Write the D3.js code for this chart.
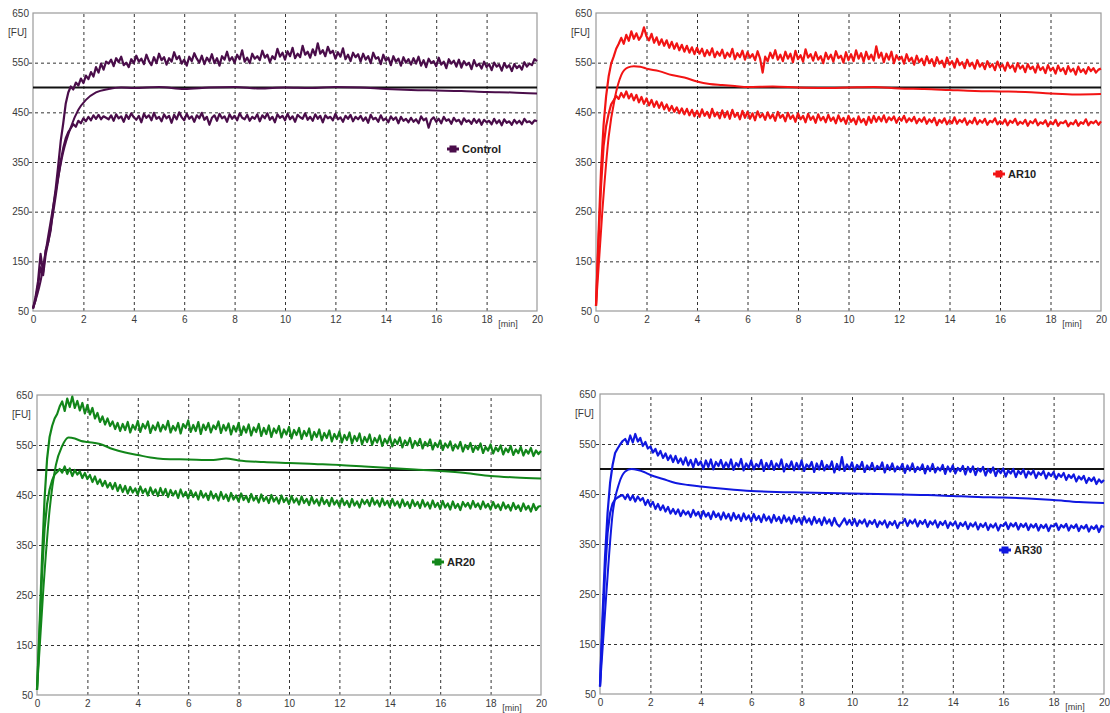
<!DOCTYPE html>
<html><head><meta charset="utf-8">
<script src="https://cdn.jsdelivr.net/npm/d3@7"></script>
<style>
body{margin:0;background:#fff;}
svg text{font-family:"Liberation Sans",Arial,sans-serif;}
</style></head>
<body><svg id="c" width="1110" height="713"></svg>
<script>
// ---------- DATA ----------
const timeStep = 0.1; // min, sampling of the noisy traces (index * step)
const yTicks = [50,150,250,350,450,550,650];
const xTicks = [0,2,4,6,8,10,12,14,16,18,20];
const refLevel = 500;
const seriesNames = ["Control","AR10","AR20","AR30"];

const controlUpper = [55,78,110,165,128,172,188,212,258,296,342,392,428,468,490,
502,496,510,504,518,509,524,517,531,522,541,530,548,536,552,
548,556,543,559,551,562,545,550,541,557,549,564,552,558,547,566,553,545,561,549,
568,555,561,546,559,552,571,557,563,548,556,544,562,553,569,558,550,564,547,560,
552,567,549,559,544,563,556,572,554,561,550,566,557,575,552,560,549,568,558,563,
555,574,560,566,551,563,557,578,562,570,556,573,563,580,559,568,561,584,566,572,
560,577,565,589,568,575,563,582,569,574,558,571,562,579,557,566,553,570,561,567,
552,568,556,563,549,570,558,561,547,566,554,560,545,563,552,558,544,561,550,557,
546,559,548,562,544,555,541,558,549,553,543,560,546,552,539,557,548,554,542,556,
540,553,545,550,537,555,543,548,538,552,541,547,535,550,542,546,534,549,540,545,
533,547,539,544,536,551,542,548,545,557,553];
const controlLower = [55,72,102,138,122,163,188,218,248,282,318,352,378,398,410,
418,426,421,433,428,438,432,441,434,444,437,445,436,442,439,
436,444,433,446,438,442,431,445,437,448,440,435,443,430,447,439,444,434,449,437,
441,432,446,438,443,429,445,436,450,440,434,447,437,442,431,444,438,449,435,441,
425,439,444,433,447,438,442,431,446,437,443,434,448,439,436,445,433,441,437,446,
432,444,438,448,435,441,430,446,439,443,434,447,436,442,431,445,440,437,448,435,
441,433,446,437,443,430,444,438,441,434,447,436,440,431,443,437,445,432,441,436,
443,433,440,429,445,436,439,431,444,434,438,430,442,435,440,428,441,433,437,430,
439,431,436,428,442,434,438,419,435,440,431,437,428,441,433,436,427,439,432,435,
426,438,431,434,427,437,429,436,425,435,430,433,426,437,428,434,424,436,429,432,
425,435,428,433,426,437,430,432,427,434,432];
const controlMean = [[0,55],[0.3,110],[0.6,200],[0.9,290],[1.2,370],[1.5,420],[1.8,455],[2.1,475],[2.5,490],[3,497],[3.5,500],[4,499],[5,501],[6,497],[7,500],[8,501],[9,498],[10,500],[11,499],[12,501],[13,500],[14,497],[15,495],[16,494],[17,493],[18,491],[19,490],[20,488]];

const ar10Upper = [60,205,335,425,482,522,548,562,578,588,
600,588,606,594,613,598,609,596,604,621,603,595,608,590,601,586,597,584,595,580,
592,578,589,575,586,572,584,570,581,567,580,568,578,563,575,565,579,561,572,564,
576,559,570,562,578,557,569,561,574,556,571,560,567,555,573,558,530,562,553,570,
559,575,556,566,553,572,558,568,551,574,557,565,552,577,560,567,554,571,556,563,
549,570,557,566,552,573,559,564,550,571,555,567,553,575,558,569,552,572,557,566,
554,583,560,570,551,568,556,572,549,565,556,562,548,567,553,560,546,564,551,558,
545,563,549,557,543,561,548,554,541,560,546,553,540,558,545,551,539,556,543,550,
538,555,542,549,537,553,541,547,535,552,
540,546,534,550,539,545,532,549,538,544,531,547,537,542,530,546,535,541,529,545,
534,540,528,544,533,539,527,543,532,538,526,542,531,537,528,541,533,539,530,536,538];
const ar10Lower = [60,188,302,382,422,447,466,474,483,477,
489,480,492,478,487,474,485,470,481,467,478,464,475,461,472,459,470,456,466,453,
463,451,460,448,458,446,457,444,455,442,453,441,456,443,451,439,457,442,450,438,
454,440,452,437,455,441,449,436,453,439,
451,437,448,434,452,440,447,435,450,438,446,433,451,439,445,432,449,437,444,431,
448,436,443,430,447,435,442,429,446,434,
441,430,445,433,440,428,444,432,439,427,443,431,438,426,442,430,437,425,441,429,
443,431,441,432,444,430,440,434,442,429,439,433,443,430,438,432,441,428,437,431,
440,427,436,430,439,424,435,429,438,426,434,428,440,427,435,430,438,425,433,428,
439,426,434,429,437,425,433,430,438,426,432,427,436,424,433,429,437,425,431,427,
435,423,432,428,436,424,430,427,434,422,431,426,435,423,430,428,433,422,429,426,
434,423,430,427,436,424,431,428,433,425,432];
const ar10Mean = [[0,60],[0.25,250],[0.5,400],[0.75,480],[1,525],[1.25,540],[1.5,543],[1.75,542],[2,538],[2.5,533],[3,525],[3.5,520],[4,512],[4.5,507],[5,505],[5.5,503],[6,501],[7,502],[8,500],[9,499],[10,500],[11,501],[12,498],[13,497],[14,495],[15,493],[16,492],[17,491],[18,488],[19,486],[20,487]];

const ar20Upper = [60,185,325,442,522,566,588,603,612,627,
637,618,643,626,647,624,638,619,634,613,630,611,624,603,614,596,607,591,603,588,
597,582,594,578,592,580,596,575,590,581,598,576,592,583,597,574,589,580,595,577,
590,581,598,575,588,579,594,573,592,584,599,576,590,578,596,572,591,580,594,575,
589,582,597,574,590,579,593,571,588,577,594,570,587,575,591,569,585,576,592,568,
584,572,589,566,583,574,588,565,581,571,586,563,580,570,584,562,578,568,583,560,
576,566,581,559,574,564,579,557,572,562,577,555,570,560,575,553,568,558,573,551,
566,556,571,550,564,555,569,548,562,553,567,547,561,552,565,545,559,550,564,544,
558,549,562,543,556,548,561,541,554,546,559,540,553,545,557,539,551,543,556,537,
550,542,554,536,548,541,553,534,546,539,551,533,545,538,549,531,543,536,548,530,
541,534,546,529,540,533,544,528,539,532,538];
const ar20Lower = [60,172,292,382,432,461,479,491,496,502,
495,507,492,503,488,500,491,497,484,494,482,490,476,487,472,481,468,478,465,474,
462,474,458,470,456,468,453,466,455,463,451,467,454,462,449,465,452,461,448,464,
450,462,446,460,449,458,444,461,447,456,443,459,446,455,441,458,445,453,440,457,
443,452,439,456,442,451,438,454,441,449,437,453,440,448,436,452,439,447,435,451,
438,446,434,450,437,445,433,449,436,444,432,448,435,443,431,447,434,442,430,446,
433,441,429,445,432,440,428,444,431,439,427,443,430,438,426,442,429,437,425,441,
432,440,428,444,431,439,427,443,430,438,426,442,429,437,425,441,428,436,424,440,
428,436,424,440,427,435,423,439,426,434,422,438,425,433,421,437,424,432,420,436,
427,434,423,438,426,433,422,437,425,432,421,436,424,431,420,435,423,430,419,434,
422,429,418,433,421,428,417,432,420,427,428];
const ar20Mean = [[0,60],[0.25,260],[0.5,420],[0.75,510],[1,548],[1.25,565],[1.5,563],[1.75,558],[2,556],[2.5,552],[3,542],[3.5,535],[4,530],[4.5,525],[5,522],[6,521],[7,520],[7.5,523],[8,519],[9,516],[10,514],[11,512],[12,510],[13,507],[14,504],[15,501],[16,498],[17,494],[18,488],[19,485],[20,483]];

const ar30Upper = [65,205,325,412,472,508,532,541,549,556,
560,550,567,553,570,555,562,546,554,541,545,533,540,527,536,522,531,518,527,514,
526,512,521,509,523,507,518,503,520,508,515,500,517,504,519,499,514,506,518,501,
513,503,519,498,512,505,520,497,511,502,517,499,510,504,518,496,512,501,516,498,
511,503,519,495,510,502,515,497,512,500,517,496,509,503,514,494,511,499,516,497,
508,501,515,493,510,498,524,496,509,500,
513,495,508,501,514,494,507,499,512,496,506,500,513,493,508,498,511,495,505,499,
510,492,507,497,511,494,504,498,509,491,506,496,510,493,503,497,508,490,505,495,
507,491,502,496,506,489,504,494,505,488,501,495,504,487,500,493,503,486,499,492,
501,485,497,491,500,484,496,490,499,483,495,489,497,482,493,488,496,481,492,486,
494,480,490,484,492,478,488,482,489,475,485,479,486,472,482,476,483,470,479,473,478];
const ar30Lower = [65,182,292,372,412,431,439,443,446,448,
440,449,438,447,435,445,437,442,428,438,426,434,420,430,418,427,415,424,411,420,
410,419,406,417,409,415,404,418,407,414,402,416,405,412,400,415,404,411,399,413,
401,410,397,412,400,408,396,411,399,407,395,410,398,406,394,409,397,405,393,408,
396,404,392,407,395,403,391,406,394,402,390,405,393,401,389,404,392,400,388,403,
391,399,387,402,390,385,393,401,389,398,
388,400,386,397,391,399,385,396,390,398,384,395,389,397,383,394,388,396,382,393,
392,400,386,397,391,399,385,396,390,398,384,395,389,397,383,394,388,396,382,393,
387,395,381,392,386,394,380,391,385,393,379,390,384,392,378,389,383,391,377,388,
386,393,380,391,385,392,379,390,384,391,378,389,383,390,377,388,382,389,376,387,
385,391,378,388,383,390,377,387,382,389,376,386,381,388,375,385,380,387,374,386,384];
const ar30Mean = [[0,65],[0.25,250],[0.5,410],[0.75,470],[1,495],[1.25,500],[1.5,498],[1.75,494],[2,488],[2.5,480],[3,472],[3.5,468],[4,465],[5,460],[6,456],[7,454],[8,453],[9,452],[10,451],[11,450],[12,449],[13,448],[14,446],[15,444],[16,443],[17,441],[18,438],[19,434],[20,432]];

// ---------- LAYOUT / STYLE ----------
const colors = ["#4a0d4a","#f21414","#12861a","#1018e0"];
const layout = [
  {box:[33,13,537,311], legend:[447,149]},
  {box:[596,13,1101,311], legend:[993,174]},
  {box:[37,395,541,695], legend:[432,562]},
  {box:[600,394,1104,694], legend:[999,550]}
];
const panelData = [
  {upper:controlUpper, lower:controlLower, mean:controlMean},
  {upper:ar10Upper, lower:ar10Lower, mean:ar10Mean},
  {upper:ar20Upper, lower:ar20Lower, mean:ar20Mean},
  {upper:ar30Upper, lower:ar30Lower, mean:ar30Mean}
];

const svg = d3.select("#c");
const textCol = "#3a3a3a";

panelData.forEach((pd,i)=>{
  const [x0,y0,x1,y1] = layout[i].box;
  const col = colors[i];
  const x = d3.scaleLinear().domain([0,20]).range([x0,x1]);
  const y = d3.scaleLinear().domain([50,650]).range([y1,y0]);
  const g = svg.append("g");

  const hg = g.append("g").attr("transform",`translate(${x0-4},0)`)
    .call(d3.axisLeft(y).tickValues(yTicks.slice(1,-1)).tickSize(-(x1-x0+4)).tickFormat(""));
  hg.select(".domain").remove();
  hg.selectAll("line").attr("stroke","#333").attr("stroke-dasharray","3,3").attr("stroke-width",1);

  const vg = g.append("g").attr("transform",`translate(0,${y1})`)
    .call(d3.axisBottom(x).tickValues(xTicks.slice(1,-1)).tickSize(-(y1-y0)).tickFormat(""));
  vg.select(".domain").remove();
  vg.selectAll("line").attr("stroke","#333").attr("stroke-dasharray","3,3").attr("stroke-width",1);

  g.append("rect").attr("x",x0).attr("y",y0).attr("width",x1-x0).attr("height",y1-y0)
    .attr("fill","none").attr("stroke","#9a9a9a").attr("stroke-width",1.2);

  const ya = g.append("g").attr("transform",`translate(${x0},0)`)
    .call(d3.axisLeft(y).tickValues(yTicks).tickSize(0).tickPadding(4));
  ya.select(".domain").remove();
  ya.selectAll("text").attr("fill",textCol).style("font-size","10px");

  const xa = g.append("g").attr("transform",`translate(0,${y1})`)
    .call(d3.axisBottom(x).tickValues(xTicks).tickSize(0).tickPadding(5));
  xa.select(".domain").remove();
  xa.selectAll("text").attr("fill",textCol).style("font-size","10px");

  g.append("text").attr("x",x0-25).attr("y",y(650)+23).attr("fill",textCol)
    .style("font-size","10px").text("[FU]");
  g.append("text").attr("x",x(18.85)).attr("y",y1+16).attr("fill",textCol)
    .attr("text-anchor","middle").style("font-size","9px").text("[min]");

  g.append("line").attr("x1",x0).attr("x2",x1).attr("y1",y(refLevel)).attr("y2",y(refLevel))
    .attr("stroke","#111").attr("stroke-width",2);

  const lineIdx = d3.line().x((d,k)=>x(k*timeStep)).y(d=>y(d));
  const linePair = d3.line().x(d=>x(d[0])).y(d=>y(d[1])).curve(d3.curveMonotoneX);

  [pd.upper,pd.lower].forEach(s=>{
    g.append("path").datum(s).attr("d",lineIdx).attr("fill","none")
      .attr("stroke",col).attr("stroke-width",2.2).attr("stroke-linejoin","round");
  });
  g.append("path").datum(pd.mean).attr("d",linePair).attr("fill","none")
    .attr("stroke",col).attr("stroke-width",2);

  const [lx,ly] = layout[i].legend;
  g.append("line").attr("x1",lx).attr("x2",lx+12).attr("y1",ly).attr("y2",ly)
    .attr("stroke",col).attr("stroke-width",3);
  g.append("rect").attr("x",lx+2.5).attr("y",ly-3.5).attr("width",7).attr("height",7).attr("fill",col);
  g.append("text").attr("x",lx+15).attr("y",ly+4).attr("fill","#222")
    .style("font-size","11px").style("font-weight","bold").text(seriesNames[i]);
});
</script></body></html>
